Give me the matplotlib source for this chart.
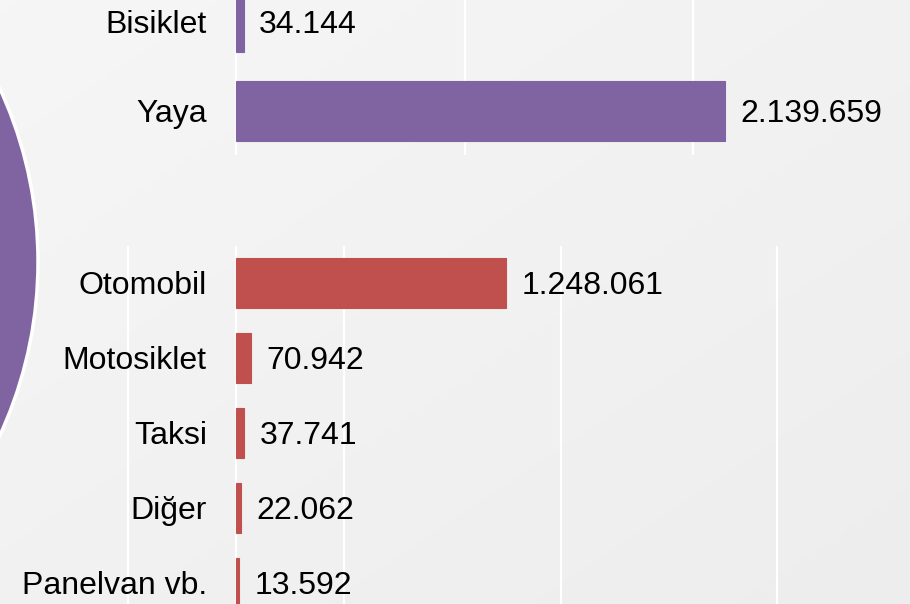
import numpy as np
import matplotlib

matplotlib.use("Agg")
import matplotlib.pyplot as plt  # noqa: E402
from matplotlib.patches import Circle  # noqa: E402

plt.rcParams["font.family"] = ["Liberation Sans", "DejaVu Sans"]

# data
top_cats = ["Yaya", "Bisiklet"]
top_vals = [2139659, 34144]
bot_cats = ["Otomobil", "Motosiklet", "Taksi", "Diğer", "Panelvan vb."]
bot_vals = [1248061, 70942, 37741, 22062, 13592]
top_grid = [0, 1_000_000, 2_000_000]
bot_grid = [-500_000, 0, 500_000, 1_500_000, 2_500_000]

PURPLE = "#8064A2"
RED = "#C0504D"
W, H = 910, 604


def fmt(v):
    return f"{v:,}".replace(",", ".")


def frac(x0, y0, x1, y1):
    """pixel box (top-left origin) -> figure fraction rect"""
    return [x0 / W, 1 - y1 / H, (x1 - x0) / W, (y1 - y0) / H]


fig = plt.figure(figsize=(W / 100, H / 100), dpi=100)

# background gradient + decorative circle
bg = fig.add_axes([0, 0, 1, 1])
gx, gy = np.meshgrid(np.linspace(0, 1, 200), np.linspace(0, 1, 200))
g = 0.5 * gx + 0.5 * gy
c0, c1 = np.array([0.965, 0.965, 0.965]), np.array([0.93, 0.93, 0.93])
img = c0 + g[..., None] * (c1 - c0)
bg.imshow(img, extent=[0, W, H, 0], aspect="auto")
bg.add_patch(Circle((-375, 262), 413, facecolor=PURPLE, edgecolor="white", lw=2.5))
bg.set_xlim(0, W)
bg.set_ylim(H, 0)
bg.axis("off")


def panel(rect, cats, vals, color, grid, xlim, ylim, height):
    ax = fig.add_axes(frac(*rect))
    ax.patch.set_alpha(0)
    y = np.arange(len(cats))
    ax.barh(y, vals, height=height, color=color, edgecolor=color, lw=0.8,
            zorder=3)
    ax.set_xlim(*xlim)
    ax.set_ylim(*ylim)
    ax.set_xticks(grid)
    ax.set_yticks([])
    ax.tick_params(axis="x", length=0, labelbottom=False)
    ax.grid(axis="x", color="white", lw=1.6, zorder=0)
    for s in ax.spines.values():
        s.set_visible(False)
    for yi, c, v in zip(y, cats, vals):
        ax.annotate(c, xy=(0, yi), xytext=(-21, -2.5), textcoords="offset points",
                    ha="right", va="center", fontsize=23, color="black",
                    annotation_clip=False)
        ax.annotate(fmt(v), xy=(v, yi), xytext=(11, -2.5), textcoords="offset points",
                    ha="left", va="center", fontsize=23, color="black",
                    annotation_clip=False)
    return ax


# top (purple) group: 0 at x=236px, 228.5 px per million
panel((120, 0, W, 155), top_cats, top_vals, PURPLE, top_grid,
      ((120 - 236) / 228.5 * 1e6, (W - 236) / 228.5 * 1e6),
      (-44 / 89, 111 / 89), 60 / 89)

# bottom (red) group: 0 at x=236px, 216.5 px per million
panel((120, 246, W, H), bot_cats, bot_vals, RED, bot_grid,
      ((120 - 236) / 216.5 * 1e6, (W - 236) / 216.5 * 1e6),
      ((H - 283) / 75, -37 / 75), 50 / 75)

fig.savefig("out.png", dpi=100)
